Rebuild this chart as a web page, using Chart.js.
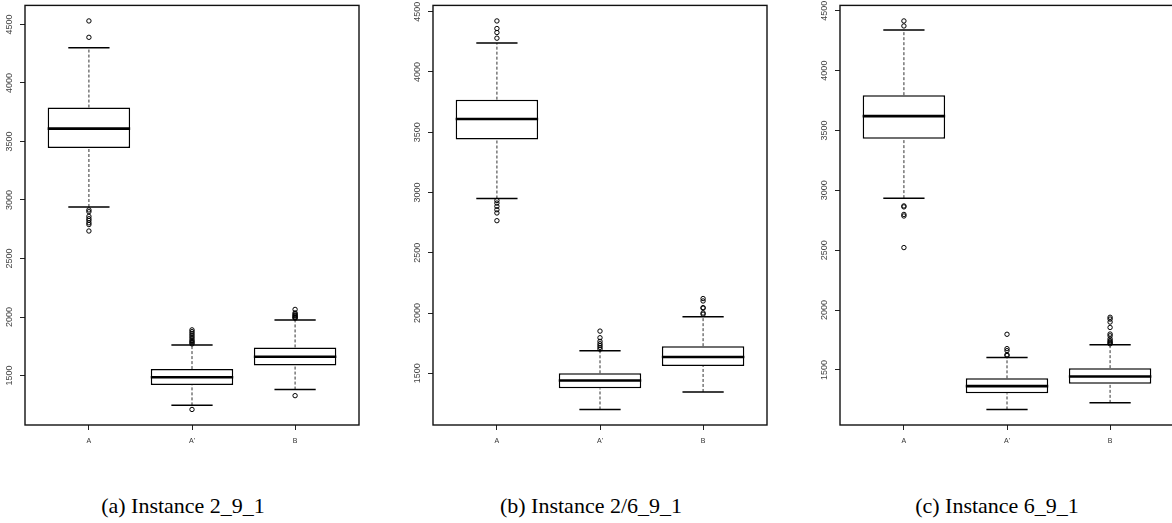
<!DOCTYPE html>
<html>
<head>
<meta charset="utf-8">
<script src="https://cdn.jsdelivr.net/npm/chart.js@4.4.1/dist/chart.umd.min.js"></script>
<style>
  html, body { margin: 0; padding: 0; background: #fff; overflow: hidden; width: 1172px; height: 523px; }
  .panel { position: absolute; top: 0; }
  .cap { position: absolute; top: 495px; line-height: 22px; font-family: "Liberation Serif", "Times New Roman", serif; font-size: 22px; color: #000; white-space: nowrap; transform: translateX(-50%); }
</style>
</head>
<body>
<div class="panel" style="left:0px"><canvas id="c0" width="364" height="460"></canvas></div>
<div class="panel" style="left:408px"><canvas id="c1" width="364" height="460"></canvas></div>
<div class="panel" style="left:815px"><canvas id="c2" width="364" height="460"></canvas></div>
<div class="cap" style="left:183px" id="t0"></div>
<div class="cap" style="left:591px" id="t1"></div>
<div class="cap" style="left:997px" id="t2"></div>
<script>
const categories = ['A', "A'", 'B'];
const yTicks = [1500, 2000, 2500, 3000, 3500, 4000, 4500];
const captions = ['(a) Instance 2_9_1', '(b) Instance 2/6_9_1', '(c) Instance 6_9_1'];

// [lower whisker, Q1, median, Q3, upper whisker] per category
const stats_2_9_1 = [[2940, 3445, 3610, 3790, 4300], [1245, 1420, 1485, 1555, 1760], [1380, 1585, 1660, 1740, 1975]];
const stats_26_9_1 = [[2950, 3440, 3610, 3770, 4240], [1200, 1375, 1440, 1500, 1686], [1345, 1560, 1635, 1725, 1970]];
const stats_6_9_1 = [[2935, 3430, 3620, 3795, 4340], [1170, 1305, 1365, 1430, 1605], [1225, 1385, 1445, 1515, 1710]];

const outliers_2_9_1 = [
  [4530, 4390, 2915, 2900, 2860, 2840, 2825, 2805, 2790, 2735],
  [1890, 1875, 1860, 1845, 1830, 1815, 1800, 1790, 1780, 1770, 1210],
  [2065, 2035, 2025, 2015, 2010, 2000, 1995, 1990, 1328]
];
const outliers_26_9_1 = [
  [4423, 4360, 4327, 4280, 2934, 2912, 2885, 2857, 2830, 2766],
  [1850, 1795, 1765, 1745, 1730, 1715, 1700],
  [2120, 2100, 2045, 2040, 2000, 1990]
];
const outliers_6_9_1 = [
  [4415, 4373, 2870, 2862, 2799, 2786, 2522],
  [1798, 1678, 1661, 1627, 1620],
  [1940, 1925, 1900, 1855, 1800, 1785, 1760, 1745, 1735, 1725, 1718]
];

const panels = [
  { stats: stats_2_9_1, outliers: outliers_2_9_1 },
  { stats: stats_26_9_1, outliers: outliers_26_9_1 },
  { stats: stats_6_9_1, outliers: outliers_6_9_1 }
];

const rBox = {
  id: 'rBox',
  afterDatasetsDraw(chart, args, opts) {
    const { ctx, scales: { x, y }, chartArea: a } = chart;
    const bars = chart.getDatasetMeta(0).data;
    ctx.save();
    opts.stats.forEach((s, i) => {
      const cx = x.getPixelForValue(i);
      const half = bars[i].width / 2;
      ctx.strokeStyle = '#333';
      ctx.lineWidth = 1;
      ctx.setLineDash([3, 2]);
      ctx.beginPath();
      ctx.moveTo(cx, y.getPixelForValue(s[0])); ctx.lineTo(cx, y.getPixelForValue(s[1]));
      ctx.moveTo(cx, y.getPixelForValue(s[3])); ctx.lineTo(cx, y.getPixelForValue(s[4]));
      ctx.stroke();
      ctx.setLineDash([]);
      ctx.strokeStyle = '#000';
      ctx.lineWidth = 1.5;
      ctx.beginPath();
      [s[0], s[4]].forEach((v) => {
        const py = y.getPixelForValue(v);
        ctx.moveTo(cx - half / 2, py); ctx.lineTo(cx + half / 2, py);
      });
      ctx.stroke();
      ctx.lineWidth = 2.6;
      ctx.beginPath();
      const my = y.getPixelForValue(s[2]);
      ctx.moveTo(cx - half, my); ctx.lineTo(cx + half, my);
      ctx.stroke();
    });
    ctx.lineWidth = 1.4;
    ctx.strokeStyle = '#111';
    ctx.strokeRect(a.left, a.top, a.right - a.left, a.bottom - a.top);
    ctx.restore();
  }
};

panels.forEach((p, k) => {
  const all = p.stats.flat().concat(p.outliers.flat());
  const lo = Math.min(...all), hi = Math.max(...all);
  const pad = (hi - lo) * 0.04;
  const points = [];
  p.outliers.forEach((list, i) => list.forEach((v) => points.push({ x: i, y: v })));

  new Chart(document.getElementById('c' + k), {
    type: 'bar',
    data: {
      datasets: [
        {
          type: 'bar',
          data: p.stats.map((s, i) => ({ x: i, y: [s[1], s[3]] })),
          backgroundColor: '#fff',
          borderColor: '#000',
          borderWidth: 1.5,
          borderSkipped: false,
          barPercentage: 0.8,
          categoryPercentage: 1
        },
        {
          type: 'scatter',
          data: points,
          pointStyle: 'circle',
          pointRadius: 2.2,
          pointBorderWidth: 1,
          pointBorderColor: '#000',
          pointBackgroundColor: 'rgba(0,0,0,0)'
        }
      ]
    },
    options: {
      responsive: false,
      animation: false,
      layout: { padding: { top: 3, right: 2, left: 0, bottom: 0 } },
      plugins: { legend: { display: false }, tooltip: { enabled: false }, rBox: { stats: p.stats } },
      scales: {
        x: {
          type: 'linear',
          min: -0.62,
          max: 2.62,
          offset: false,
          afterBuildTicks: (s) => { s.ticks = categories.map((c, i) => ({ value: i })); },
          afterFit: (s) => { s.height = 35; },
          ticks: { callback: (v) => categories[v], font: { family: 'Liberation Sans', size: 7 }, color: '#333', padding: 7, maxRotation: 0 },
          grid: { offset: false, drawOnChartArea: false, tickLength: 5, color: '#222' },
          border: { display: false }
        },
        y: {
          min: lo - pad,
          max: hi + pad,
          afterBuildTicks: (s) => { s.ticks = yTicks.map((v) => ({ value: v })); },
          afterFit: (s) => { s.width = 25; },
          ticks: { callback: (v) => String(v), font: { family: 'Liberation Sans', size: 9 }, color: '#444', minRotation: 90, maxRotation: 90, crossAlign: 'center', padding: 0 },
          grid: { drawOnChartArea: false, tickLength: 5, color: '#222' },
          border: { display: false }
        }
      }
    },
    plugins: [rBox]
  });
  document.getElementById('t' + k).textContent = captions[k];
});
</script>
</body>
</html>
